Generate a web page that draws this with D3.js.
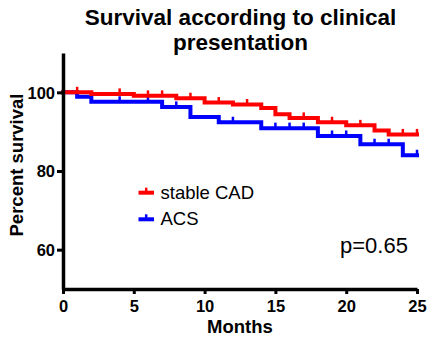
<!DOCTYPE html>
<html>
<head>
<meta charset="utf-8">
<script src="https://cdn.jsdelivr.net/npm/d3@7"></script>
<style>
  html, body { margin: 0; padding: 0; background: #fff; }
  svg { display: block; font-family: Arial, "Liberation Sans", sans-serif; }
</style>
</head>
<body>
<svg id="chart" width="427" height="337"></svg>
<script>
// ---- Data ----
const titleLines = ["Survival according to clinical", "presentation"];
const xLabel = "Months";
const yLabel = "Percent survival";
const pText = "p=0.65";

const xTicks = [0, 5, 10, 15, 20, 25];
const yTicks = [60, 80, 100];

const seriesNames = ["stable CAD", "ACS"];

// stable CAD: step times (months) and survival (%) after each step
const cadTimes = [0, 2, 5, 8, 10, 12, 14, 15, 16, 18, 20, 22, 23];
const cadSurv  = [100, 99.6, 99.1, 98.5, 97.4, 96.9, 96.0, 94.4, 93.5, 92.4, 91.6, 90.3, 89.3];
const cadCensor = [1, 4, 6, 7, 9, 11, 13, 17, 19, 21, 24, 25];
const cadEnd = 25;

// ACS
const acsTimes = [0, 1, 2, 7, 9, 11, 14, 18, 21, 24];
const acsSurv  = [100, 98.9, 97.6, 96.3, 93.7, 92.4, 90.9, 88.9, 86.8, 84.0];
const acsCensor = [4, 6, 8, 12, 15, 16, 17, 19, 20, 22, 23, 25];
const acsEnd = 25;

// ---- Drawing ----
const svg = d3.select("#chart");
const x = d3.scaleLinear().domain([0, 25]).range([63, 417]);
const y = d3.scaleLinear().domain([50, 110]).range([289, 53]);

function survAt(times, surv, t) {
  let v = surv[0];
  for (let i = 0; i < times.length; i++) if (times[i] <= t) v = surv[i];
  return v;
}

function stepPoints(times, surv, end) {
  const pts = times.map((t, i) => [t, surv[i]]);
  pts.push([end, surv[surv.length - 1]]);
  return pts;
}

const line = d3.line().x(d => x(d[0])).y(d => y(d[1])).curve(d3.curveStepAfter);

const series = [
  { name: seriesNames[1], color: "#0000ff", times: acsTimes, surv: acsSurv, censor: acsCensor, end: acsEnd },
  { name: seriesNames[0], color: "#ff0000", times: cadTimes, surv: cadSurv, censor: cadCensor, end: cadEnd }
];

series.forEach(s => {
  const g = svg.append("g");
  g.append("path")
    .attr("d", line(stepPoints(s.times, s.surv, s.end)))
    .attr("fill", "none")
    .attr("stroke", s.color)
    .attr("stroke-width", 4)
    .attr("stroke-linejoin", "miter")
    .attr("stroke-linecap", "square");
  g.selectAll("line.c").data(s.censor).join("line")
    .attr("class", "c")
    .attr("x1", d => x(d)).attr("x2", d => x(d))
    .attr("y1", d => y(survAt(s.times, s.surv, d)))
    .attr("y2", d => y(survAt(s.times, s.surv, d)) - 5.5)
    .attr("stroke", s.color)
    .attr("stroke-width", 2.5);
});

// Axes
const yAxis = svg.append("g")
  .attr("transform", `translate(${x(0)},0)`)
  .call(d3.axisLeft(y).tickValues(yTicks).tickSize(6).tickSizeOuter(0).tickPadding(2));
const xAxis = svg.append("g")
  .attr("transform", `translate(0,${y(50)})`)
  .call(d3.axisBottom(x).tickValues(xTicks).tickSize(5).tickSizeOuter(0));

[yAxis, xAxis].forEach(a => {
  a.select(".domain").attr("stroke", "#000").attr("stroke-width", 3.5);
  a.selectAll(".tick line").attr("stroke", "#000").attr("stroke-width", 3);
  a.selectAll(".tick text")
    .attr("fill", "#000")
    .style("font-size", "16.5px")
    .style("font-weight", "bold")
    .style("font-family", "Arial, 'Liberation Sans', sans-serif");
});
yAxis.selectAll(".tick text").attr("dy", "0.36em");
xAxis.selectAll(".tick text").attr("y", 23).attr("dy", 0);

// Title
svg.append("text")
  .attr("text-anchor", "middle")
  .style("font-size", "22.5px").style("font-weight", "bold")
  .selectAll("tspan").data(titleLines).join("tspan")
  .attr("x", 240.5)
  .attr("y", (d, i) => 25 + i * 24.5)
  .text(d => d);

// Axis labels
svg.append("text")
  .attr("text-anchor", "middle")
  .attr("x", 240).attr("y", 332.5)
  .style("font-size", "18.5px").style("font-weight", "bold")
  .text(xLabel);
svg.append("text")
  .attr("text-anchor", "middle")
  .attr("transform", "translate(23,165) rotate(-90)")
  .style("font-size", "18.5px").style("font-weight", "bold")
  .text(yLabel);

// p-value
svg.append("text")
  .attr("x", 340).attr("y", 253.3)
  .style("font-size", "22px")
  .text(pText);

// Legend
const legendItems = [
  { name: seriesNames[0], color: "#ff0000", y: 192.7 },
  { name: seriesNames[1], color: "#0000ff", y: 219.3 }
];
const lg = svg.append("g");
legendItems.forEach(it => {
  lg.append("line")
    .attr("x1", 138.5).attr("x2", 154).attr("y1", it.y).attr("y2", it.y)
    .attr("stroke", it.color).attr("stroke-width", 4);
  lg.append("line")
    .attr("x1", 146.2).attr("x2", 146.2).attr("y1", it.y).attr("y2", it.y - 5)
    .attr("stroke", it.color).attr("stroke-width", 2.5);
  lg.append("text")
    .attr("x", 160.5).attr("y", it.y + 6)
    .style("font-size", "18.5px")
    .text(it.name);
});
</script>
</body>
</html>
